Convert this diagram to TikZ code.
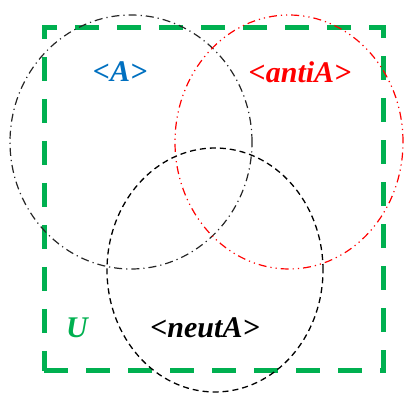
\documentclass[tikz,border=0pt]{standalone}
\usepackage{fontspec}
\setmainfont{Liberation Serif}
\usetikzlibrary{shapes.geometric}
\definecolor{ugreen}{HTML}{00B050}
\definecolor{ablue}{HTML}{0070C0}
\begin{document}
\begin{tikzpicture}[x=1pt,y=-1pt,
  lbl/.style={font=\fontsize{30}{34}\selectfont\bfseries\itshape, inner sep=0pt},
  setshape/.style={ellipse, inner sep=0pt, outer sep=0pt},
  circA/.style={setshape, draw=black!85, line width=1.2pt, dash pattern=on 8pt off 4pt on 1.2pt off 4pt},
  circAnti/.style={setshape, draw=red, line width=1.2pt, dash pattern=on 8pt off 4pt on 1.2pt off 4pt on 1.2pt off 4pt},
  circNeut/.style={setshape, draw=black, line width=1.3pt, dash pattern=on 6pt off 4pt},
  universe/.style={draw=ugreen, line width=5pt, dash pattern=on 24pt off 18pt, inner sep=0pt, outer sep=0pt}]
\useasboundingbox (0,0) rectangle (405,393);
\node[universe, minimum width=339pt, minimum height=343pt] (U) at (213.5,199.5) {};
\node[circA, minimum width=242pt, minimum height=254pt] (cA) at (131,142) {};
\node[circAnti, minimum width=228pt, minimum height=254pt] (cAnti) at (289,142) {};
\node[circNeut, minimum width=216pt, minimum height=244pt] (cN) at (215,270) {};
\node[lbl, text=ablue] (tA) at (120,72) {<A>};
\node[lbl, text=red] (tAnti) at (300,72) {<antiA>};
\node[lbl, text=ugreen] (tU) at (77,328) {U};
\node[lbl, text=black] (tN) at (205,328) {<neutA>};
\end{tikzpicture}
\end{document}
